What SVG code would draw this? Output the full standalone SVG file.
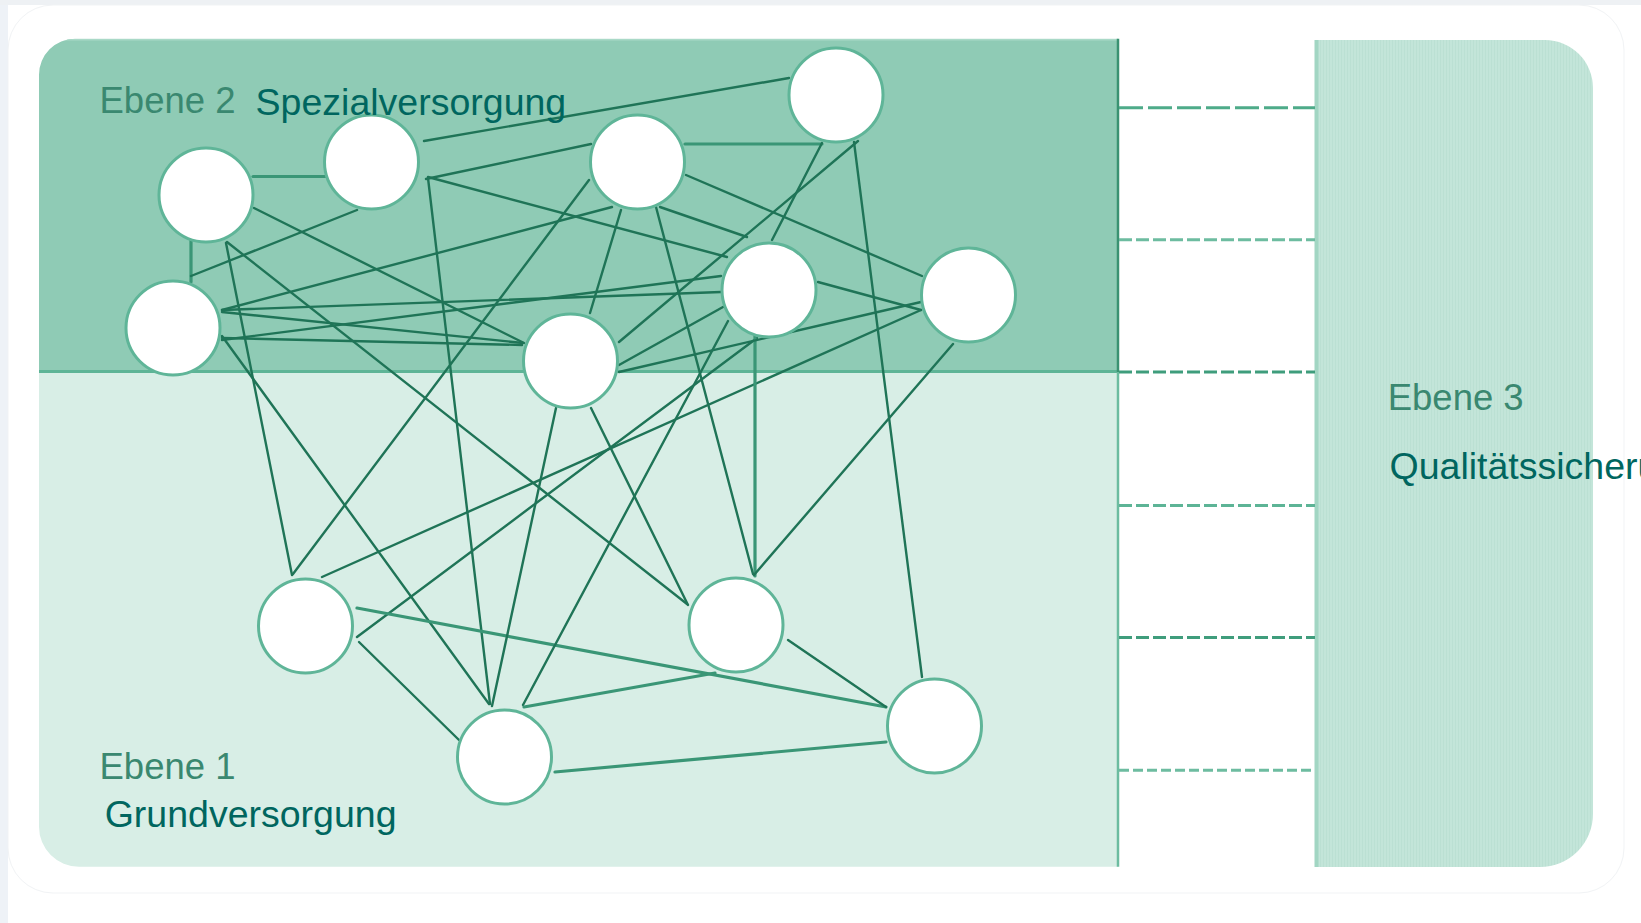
<svg xmlns="http://www.w3.org/2000/svg" width="1641" height="923" viewBox="0 0 1641 923">
  <defs>
    <style>
      .edge { stroke: #1f7457; stroke-width: 2.4; fill: none; stroke-linecap: round; }
      .edge.thick { stroke: #3a9676; stroke-width: 3.2; }
      .node circle { fill: #ffffff; stroke: #5fb598; stroke-width: 3; }
      .lvl { font-family: "Liberation Sans", Arial, sans-serif; font-size: 36.5px; fill: #3a8870; }
      .name { font-family: "Liberation Sans", Arial, sans-serif; font-size: 37.5px; fill: #00665f; }
      .dash { stroke-width: 3; fill: none; }
    </style>
    <pattern id="stripes" width="3" height="10" patternUnits="userSpaceOnUse">
      <rect width="3" height="10" fill="#c3e5d9"/>
      <rect width="1" height="10" fill="#bbe0d3"/>
    </pattern>
    <clipPath id="leftClip">
      <path d="M 1118 38.7 H 75 A 36 36 0 0 0 39 74.7 V 826.7 A 40 40 0 0 0 79 866.7 H 1118 Z"/>
    </clipPath>
  </defs>

  <!-- background and card -->
  <rect x="0" y="0" width="1641" height="923" fill="#ffffff"/>
  <rect x="0" y="0" width="8" height="923" fill="#eef2f7"/>
  <rect x="0" y="0" width="1641" height="5" fill="#eef1f4"/>
  <rect x="8" y="5" width="1616" height="888" rx="45" ry="45" fill="#ffffff" stroke="#f1f3f5" stroke-width="1"/>

  <!-- level panels -->
  <g id="panel-levels" clip-path="url(#leftClip)">
    <rect x="38" y="38.7" width="1080" height="333" fill="#8fcbb5"/>
    <rect x="38" y="371.5" width="1080" height="496" fill="#d8eee6"/>
    <line x1="38" y1="39.5" x2="1118" y2="39.5" stroke="#a9d9c7" stroke-width="2"/>
    <line x1="38" y1="371.5" x2="1118" y2="371.5" stroke="#5db496" stroke-width="3"/>
  </g>
  <g id="panel-ebene3">
    <path d="M 1315 40 H 1545 A 48 48 0 0 1 1593 88 V 814 A 53 53 0 0 1 1540 867 H 1315 Z" fill="url(#stripes)"/>
    <line x1="1316.5" y1="40" x2="1316.5" y2="867" stroke="#a2d6c3" stroke-width="4"/>
  </g>
  <g id="divider">
    <line x1="1118" y1="38.7" x2="1118" y2="372" stroke="#3a9272" stroke-width="2.5"/>
    <line x1="1118" y1="372" x2="1118" y2="866.7" stroke="#6cbca0" stroke-width="2.5"/>
  </g>
  <g id="dashes">
    <line class="dash" x1="1119" y1="107.8" x2="1315" y2="107.8" stroke="#4eab89" stroke-width="4" stroke-dasharray="24 5"/>
    <line class="dash" x1="1119" y1="239.7" x2="1315" y2="239.7" stroke="#6dbca0" stroke-dasharray="13 4"/>
    <line class="dash" x1="1119" y1="372" x2="1315" y2="372" stroke="#3f9d7c" stroke-dasharray="13 4"/>
    <line class="dash" x1="1119" y1="505.5" x2="1315" y2="505.5" stroke="#5db496" stroke-dasharray="13 4"/>
    <line class="dash" x1="1119" y1="637.4" x2="1315" y2="637.4" stroke="#3f9d7c" stroke-dasharray="13 4"/>
    <line class="dash" x1="1119" y1="770.3" x2="1315" y2="770.3" stroke="#6dbca0" stroke-dasharray="10 4"/>
  </g>

  <!-- connectors -->
  <g id="connectors">
    <line class="edge" x1="424" y1="141" x2="789" y2="78"/>
    <line class="edge" x1="426" y1="179" x2="591" y2="144"/>
    <line class="edge thick" x1="253" y1="176.5" x2="325" y2="176.5"/>
    <line class="edge thick" x1="685" y1="144" x2="822" y2="144"/>
    <line class="edge" x1="428" y1="177" x2="727" y2="257"/>
    <line class="edge" x1="428" y1="178" x2="490" y2="704"/>
    <line class="edge thick" x1="191" y1="238" x2="191" y2="282"/>
    <line class="edge" x1="191" y1="276" x2="357" y2="210"/>
    <line class="edge" x1="254" y1="208" x2="524" y2="343"/>
    <line class="edge" x1="226" y1="243" x2="292" y2="575"/>
    <line class="edge" x1="227" y1="242" x2="687" y2="604"/>
    <line class="edge" x1="222" y1="336" x2="489" y2="704"/>
    <line class="edge" x1="222" y1="310" x2="612" y2="207"/>
    <line class="edge" x1="222" y1="310" x2="721" y2="292"/>
    <line class="edge" x1="222" y1="312" x2="523" y2="343"/>
    <line class="edge" x1="222" y1="340" x2="721" y2="276"/>
    <line class="edge" x1="222" y1="338" x2="522" y2="345"/>
    <line class="edge" x1="293" y1="574" x2="589" y2="180"/>
    <line class="edge" x1="322" y1="577" x2="921" y2="310"/>
    <line class="edge" x1="357" y1="637" x2="757" y2="338"/>
    <line class="edge thick" x1="357" y1="608" x2="886" y2="707"/>
    <line class="edge" x1="359" y1="642" x2="459" y2="740"/>
    <line class="edge" x1="523" y1="705" x2="728" y2="321"/>
    <line class="edge thick" x1="755" y1="336" x2="755" y2="576"/>
    <line class="edge" x1="953" y1="344" x2="754" y2="575"/>
    <line class="edge" x1="858" y1="141" x2="619" y2="342"/>
    <line class="edge" x1="822" y1="143" x2="772" y2="240"/>
    <line class="edge" x1="854" y1="142" x2="922" y2="677"/>
    <line class="edge" x1="686" y1="175" x2="922" y2="276"/>
    <line class="edge" x1="818" y1="282" x2="921" y2="310"/>
    <line class="edge" x1="621" y1="210" x2="590" y2="313"/>
    <line class="edge" x1="656" y1="207" x2="753" y2="574"/>
    <line class="edge" x1="619" y1="365" x2="723" y2="307"/>
    <line class="edge" x1="591" y1="408" x2="688" y2="605"/>
    <line class="edge" x1="556" y1="408" x2="492" y2="706"/>
    <line class="edge" x1="619" y1="372" x2="921" y2="302"/>
    <line class="edge" x1="788" y1="640" x2="886" y2="707"/>
    <line class="edge thick" x1="524" y1="707" x2="715" y2="673"/>
    <line class="edge thick" x1="555" y1="772" x2="886" y2="742"/>
    <line class="edge" x1="660" y1="207" x2="747" y2="237"/>
  </g>

  <!-- nodes -->
  <g id="node-1" class="node"><circle cx="206" cy="195" r="47"/></g>
  <g id="node-2" class="node"><circle cx="371.5" cy="162" r="47"/></g>
  <g id="node-3" class="node"><circle cx="637.5" cy="162" r="47"/></g>
  <g id="node-4" class="node"><circle cx="836" cy="95" r="47"/></g>
  <g id="node-5" class="node"><circle cx="173" cy="328" r="47"/></g>
  <g id="node-6" class="node"><circle cx="570.5" cy="361" r="47"/></g>
  <g id="node-7" class="node"><circle cx="769" cy="290" r="47"/></g>
  <g id="node-8" class="node"><circle cx="968.5" cy="295" r="47"/></g>
  <g id="node-9" class="node"><circle cx="305.5" cy="626" r="47"/></g>
  <g id="node-10" class="node"><circle cx="736" cy="625" r="47"/></g>
  <g id="node-11" class="node"><circle cx="504.5" cy="757" r="47"/></g>
  <g id="node-12" class="node"><circle cx="934.5" cy="726" r="47"/></g>

  <!-- labels -->
  <g id="labels">
    <text class="lvl" x="99.5" y="113.3">Ebene 2</text>
    <text class="name" x="255.6" y="115">Spezialversorgung</text>
    <text class="lvl" x="99.5" y="779">Ebene 1</text>
    <text class="name" x="104.7" y="826.7">Grundversorgung</text>
    <text class="lvl" x="1387.7" y="410">Ebene 3</text>
    <text class="name" x="1389.5" y="479">Qualitätssicherung</text>
  </g>
</svg>
